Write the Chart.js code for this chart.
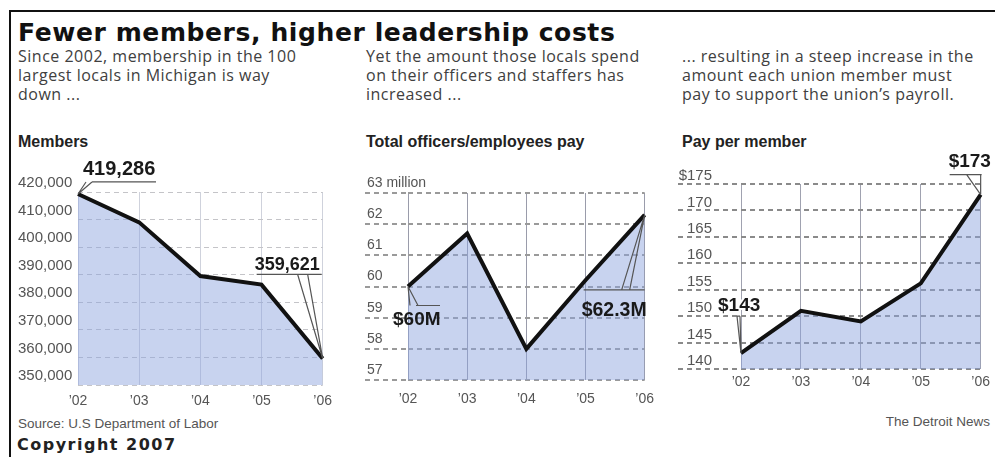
<!DOCTYPE html>
<html>
<head>
<meta charset="utf-8">
<script src="https://cdn.jsdelivr.net/npm/chart.js@4.4.1/dist/chart.umd.min.js"></script>
<style>
  body { margin: 0; background: #fff; }
  #page { position: relative; width: 995px; height: 457px; overflow: hidden; background: #fff;
          font-family: "Liberation Sans", Arial, sans-serif; }
  #frame { position: absolute; left: 9px; top: 10px; right: -5px; bottom: -5px;
           border-top: 2px solid #111; border-left: 2px solid #111; }
  .t { position: absolute; white-space: nowrap; }
  .title { left: 18px; top: 19px; font: bold 25px/28px "DejaVu Sans", sans-serif; color: #111; letter-spacing: 0.6px; }
  .sub { top: 47px; font-family: "Open Sans", sans-serif; font-size: 16px; line-height: 19px; color: #404040; letter-spacing: 0.5px; }
  .lbl { top: 133px; font-weight: bold; font-size: 16px; line-height: 18px; color: #222; }
  .foot { font-size: 13.5px; line-height: 16px; color: #555; }
  .copy { left: 17px; top: 436px; font: bold 16px/18px "DejaVu Sans", sans-serif; color: #222; letter-spacing: 1.5px; }
  canvas { position: absolute; }
</style>
</head>
<body>
<div id="page">
  <div id="frame"></div>
  <div class="t title">Fewer members, higher leadership costs</div>

  <div class="t sub" style="left:18px">Since 2002, membership in the 100<br>largest locals in Michigan is way<br>down ...</div>
  <div class="t sub" style="left:366px">Yet the amount those locals spend<br>on their officers and staffers has<br>increased ...</div>
  <div class="t sub" style="left:682px">... resulting in a steep increase in the<br>amount each union member must<br>pay to support the union’s payroll.</div>

  <div class="t lbl" style="left:18px">Members</div>
  <div class="t lbl" style="left:366px">Total officers/employees pay</div>
  <div class="t lbl" style="left:682px">Pay per member</div>

  <canvas id="membersChart" width="330" height="262" style="left:10px;top:148px"></canvas>
  <canvas id="payrollChart" width="320" height="257" style="left:345px;top:148px"></canvas>
  <canvas id="perMemberChart" width="330" height="267" style="left:665px;top:140px"></canvas>

  <div class="t foot" style="left:18px;top:416px">Source: U.S Department of Labor</div>
  <div class="t foot" style="right:5px;top:414px">The Detroit News</div>
  <div class="t copy">Copyright 2007</div>
</div>

<script>
const years = ['’02', '’03', '’04', '’05', '’06'];

const members = [419286, 409000, 389500, 386400, 359621];
const payroll = [60.0, 61.7, 58.0, 60.2, 62.3];          // millions of dollars
const payPerMember = [143, 151, 149, 156.2, 173];         // dollars

const memberTicks = [350000, 360000, 370000, 380000, 390000, 400000, 410000, 420000];
const memberTickLabels = ['350,000', '360,000', '370,000', '380,000', '390,000', '400,000', '410,000', '420,000'];
const payrollTicks = [57, 58, 59, 60, 61, 62, 63];
const payrollTickLabels = ['57', '58', '59', '60', '61', '62', '63 million'];
const perMemberTicks = [140, 145, 150, 155, 160, 165, 170, 175];
const perMemberTickLabels = ['140', '145', '150', '155', '160', '165', '170', '$175'];

// callout texts (index into years)
const memberCallouts = [{ index: 0, text: '419,286' }, { index: 4, text: '359,621' }];
const payrollCallouts = [{ index: 0, text: '$60M' }, { index: 4, text: '$62.3M' }];
const perMemberCallouts = [{ index: 0, text: '$143' }, { index: 4, text: '$173' }];

// placement of each callout relative to its point
const calloutPlacement = {
  '419,286': { dx: 5, dy: -19, uy: -12, line: [14, 78], wedge: [8, 14], font: 'bold 20px "Liberation Sans", Arial' },
  '359,621': { dx: -68, dy: -88, uy: -84, line: [-66, -1], wedge: [-25, -15], font: 'bold 18px "Liberation Sans", Arial' },
  '$60M':    { dx: -15, dy: 38, uy: 19, line: [8, 32], wedge: [2, 10], font: 'bold 19px "Liberation Sans", Arial' },
  '$62.3M':  { dx: -63, dy: 101, uy: 75, line: [-61, 0], wedge: [-23, -15], font: 'bold 19.5px "Liberation Sans", Arial' },
  '$143':    { dx: -23, dy: -42, uy: -37, line: [-4, -1], wedge: [-4, -1], font: 'bold 19px "Liberation Sans", Arial', halo: true },
  '$173':    { dx: -32, dy: -28, uy: -20, line: [-31, 1], wedge: [-14, 0], font: 'bold 19px "Liberation Sans", Arial' }
};

function calloutPlugin(items) {
  return {
    id: 'callouts',
    afterDatasetsDraw(chart) {
      const ctx = chart.ctx;
      const points = chart.getDatasetMeta(0).data;
      items.forEach(c => {
        const p = points[c.index];
        const s = calloutPlacement[c.text];
        ctx.save();
        ctx.strokeStyle = '#555';
        ctx.lineWidth = 1.2;
        ctx.beginPath();
        ctx.moveTo(p.x + s.line[0], p.y + s.uy);
        ctx.lineTo(p.x + s.line[1], p.y + s.uy);
        s.wedge.forEach(bx => {
          ctx.moveTo(p.x, p.y);
          ctx.lineTo(p.x + bx, p.y + s.uy);
        });
        ctx.stroke();
        ctx.font = s.font;
        ctx.textBaseline = 'alphabetic';
        if (s.halo) {
          ctx.strokeStyle = '#fff';
          ctx.lineWidth = 4;
          ctx.lineJoin = 'round';
          ctx.strokeText(c.text, p.x + s.dx, p.y + s.dy);
        }
        ctx.fillStyle = '#1a1a1a';
        ctx.fillText(c.text, p.x + s.dx, p.y + s.dy);
        ctx.restore();
      });
    }
  };
}

// dashed gridlines that run on under the tick labels
function gridExtend(fromX, color, width, dash) {
  return {
    id: 'gridExtend',
    beforeDraw(chart) {
      const ctx = chart.ctx;
      const y = chart.scales.y;
      ctx.save();
      ctx.strokeStyle = color;
      ctx.lineWidth = width;
      ctx.setLineDash(dash);
      y.ticks.forEach((t, i) => {
        const py = Math.round(y.getPixelForTick(i));
        ctx.beginPath();
        ctx.moveTo(fromX, py);
        ctx.lineTo(chart.chartArea.left, py);
        ctx.stroke();
      });
      ctx.restore();
    }
  };
}

function drawPanel(id, values, ticks, tickLabels, callouts, look) {
  const ctx = document.getElementById(id).getContext('2d');
  const plugins = [calloutPlugin(callouts)];
  if (look.extendFrom !== undefined) {
    plugins.push(gridExtend(look.extendFrom, look.hColor, look.hWidth, [5, 4]));
  }
  return new Chart(ctx, {
    type: 'line',
    data: {
      labels: years,
      datasets: [{
        data: values,
        borderColor: '#111',
        borderWidth: 4,
        borderJoinStyle: 'miter',
        backgroundColor: 'rgba(140, 162, 222, 0.48)',
        fill: 'start',
        tension: 0,
        pointRadius: 0,
        clip: false
      }]
    },
    options: {
      responsive: false,
      animation: false,
      layout: { padding: look.padding },
      plugins: { legend: { display: false }, tooltip: { enabled: false } },
      scales: {
        x: {
          grid: { color: look.vColor, lineWidth: 1, drawTicks: false },
          border: { display: false },
          ticks: {
            color: '#555',
            font: { family: '"Liberation Sans", Arial', size: 14 },
            padding: look.xPad,
            maxRotation: 0,
            autoSkip: false
          },
          afterFit: scale => { scale.height = 25; }
        },
        y: {
          min: ticks[0],
          max: ticks[ticks.length - 1],
          afterBuildTicks: scale => { scale.ticks = ticks.map(v => ({ value: v })); },
          afterFit: scale => { scale.width = look.yWidth; },
          grid: { color: look.hColor, lineWidth: look.hWidth, drawTicks: false },
          border: { display: false, dash: [5, 4] },
          ticks: {
            color: '#555',
            font: { family: '"Liberation Sans", Arial', size: look.yFont },
            crossAlign: look.crossAlign,
            mirror: look.mirror || false,
            padding: look.yPad,
            labelOffset: look.labelOffset,
            callback: (value, i) => tickLabels[i]
          }
        }
      }
    },
    plugins: plugins
  });
}

drawPanel('membersChart', members, memberTicks, memberTickLabels, memberCallouts, {
  padding: { left: 8, right: 12, top: 44, bottom: 0 },
  yWidth: 60, yFont: 15, crossAlign: 'far', yPad: 0, labelOffset: -9, xPad: 8,
  hColor: '#c4c4c8', hWidth: 1, vColor: '#cfd2dc'
});

// mirrored labels are not clipped to the axis box, so "63 million" can run over the plot
drawPanel('payrollChart', payroll, payrollTicks, payrollTickLabels, payrollCallouts, {
  padding: { left: 22, right: 12, top: 45, bottom: 0 },
  yWidth: 41, yFont: 14, crossAlign: 'near', mirror: true, yPad: -41, labelOffset: -10, xPad: 11,
  hColor: '#9a9a9a', hWidth: 2, vColor: '#9a9cab', extendFrom: 20
});

drawPanel('perMemberChart', payPerMember, perMemberTicks, perMemberTickLabels, perMemberCallouts, {
  padding: { left: 0, right: 11, top: 44, bottom: 0 },
  yWidth: 76, yFont: 15, crossAlign: 'near', yPad: 29, labelOffset: -8, xPad: 5,
  hColor: '#8a8a8a', hWidth: 2, vColor: '#a0a2b0', extendFrom: 13
});
</script>
</body>
</html>
